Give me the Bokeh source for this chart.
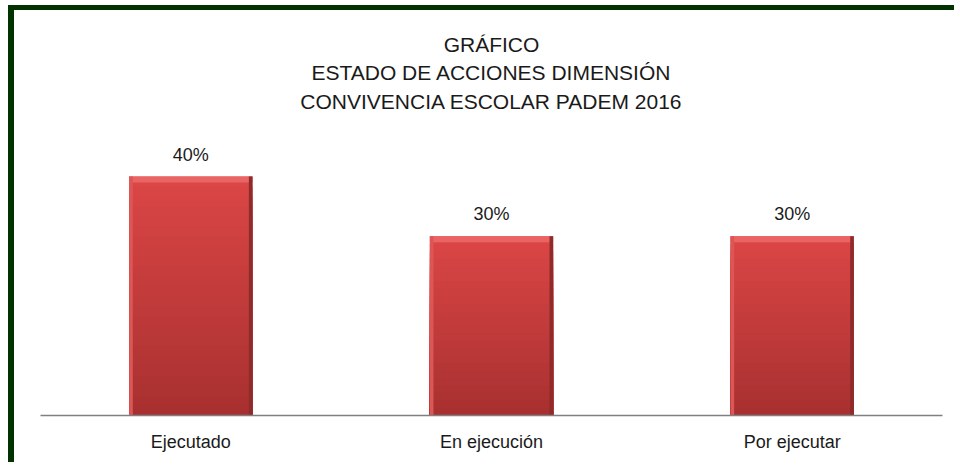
from bokeh.plotting import figure
from bokeh.models import FactorRange, Range1d, Label, ColumnDataSource
from bokeh.core.properties import value
from bokeh.transform import dodge
from bokeh.embed import file_html
from bokeh.resources import INLINE

# ---- data ----
categories = ["Ejecutado", "En ejecución", "Por ejecutar"]
percentages = [40, 30, 30]
value_labels = ["40%", "30%", "30%"]
title_lines = ["GRÁFICO", "ESTADO DE ACCIONES DIMENSIÓN", "CONVIVENCIA ESCOLAR PADEM 2016"]

FONT = "Liberation Sans"
BORDER = "#013301"
W, H = 946, 457
PX_PER_UNIT = 5.975
Y_END = 405 / PX_PER_UNIT

p = figure(
    x_range=FactorRange(factors=categories, range_padding=0),
    y_range=Range1d(0, Y_END),
    width=W, height=H,
    output_backend="svg", toolbar_location=None,
    y_axis_location=None,
    min_border_left=26, min_border_right=18, min_border_top=0, min_border_bottom=52,
)
p.styles = {"margin-left": "8px", "margin-top": "5px",
            "border-left": f"6px solid {BORDER}", "border-top": f"5px solid {BORDER}"}
p.background_fill_color = "white"
p.border_fill_color = "white"
p.outline_line_color = None
p.grid.visible = False

BAR_W = 0.41
src = ColumnDataSource(dict(
    x=categories, top=percentages,
    bevel_bottom=[v - 6 / PX_PER_UNIT for v in percentages],
))

# gradient bars: overlapping bars from full height (light) down to short (dark)
n = 24
top_rgb = (220, 70, 70)
bot_rgb = (168, 48, 48)
for i in reversed(range(n)):
    f1 = (i + 1) / n
    t = (i + 0.5) / n
    c = tuple(int(round(bot_rgb[k] + (top_rgb[k] - bot_rgb[k]) * t)) for k in range(3))
    col = "#%02x%02x%02x" % c
    p.vbar(x=categories, bottom=0, top=[v * f1 for v in percentages],
           width=BAR_W, fill_color=col, line_color=None)

# bevel highlights / shadows
p.vbar(x="x", bottom="bevel_bottom", top="top", width=BAR_W, source=src,
       fill_color="#ea6464", line_color=None)
p.vbar(x=dodge("x", -BAR_W / 2 + 0.006, range=p.x_range), bottom=0, top="top", width=0.012,
       source=src, fill_color="#dd5656", line_color=None)
p.vbar(x=dodge("x", BAR_W / 2 - 0.006, range=p.x_range), bottom=0, top="top", width=0.012,
       source=src, fill_color="#8e2b2b", line_color=None)

p.text(x=categories, y=percentages, text=value_labels, text_align="center",
       text_baseline="alphabetic", y_offset=-22, text_font=value(FONT),
       text_font_size="18px", text_color="#1a1a1a")

for line, yv in zip(title_lines, [62.1, 57.4, 52.5]):
    p.add_layout(Label(x=1.5, y=yv, text=line, text_align="center", text_baseline="alphabetic",
                       text_font=FONT, text_font_size="21px", text_color="#1a1a1a"))

ax = p.xaxis[0]
ax.axis_line_color = "#808080"
ax.axis_line_width = 1.5
ax.major_tick_line_color = None
ax.minor_tick_line_color = None
ax.major_tick_out = 0
ax.major_tick_in = 0
ax.major_label_standoff = 16
ax.major_label_text_font = FONT
ax.major_label_text_font_size = "18px"
ax.major_label_text_color = "#1a1a1a"

open("out.html", "w").write(file_html(p, INLINE))
